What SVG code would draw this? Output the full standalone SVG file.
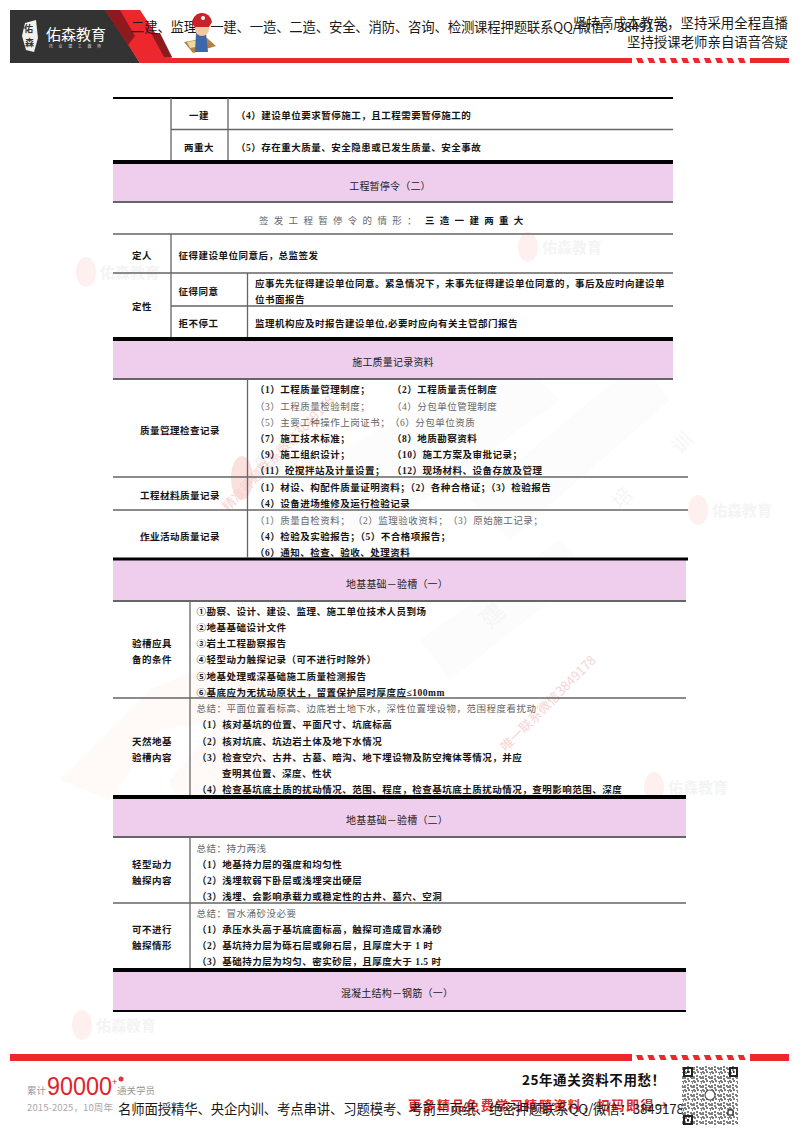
<svg xmlns="http://www.w3.org/2000/svg" width="800" height="1132" viewBox="0 0 800 1132">
<style>
text{font-family:"Liberation Serif","Noto Sans CJK SC",serif}
.b{font-size:9.5px;font-weight:700;letter-spacing:.5px;fill:#151515}
.g{font-size:9.5px;font-weight:400;letter-spacing:.5px;fill:#666}
.t{font-size:10px;font-weight:400;letter-spacing:.2px;fill:#222;text-anchor:middle}
.c{text-anchor:middle}
.h{font-family:"Noto Sans CJK SC",sans-serif;font-size:13.4px;fill:#1a1a1a}
.pink{fill:#efcdec}
.l{stroke:#666;stroke-width:1.3;fill:none}
.k{stroke:#000;stroke-width:4;fill:none}
.u{stroke:#d9534f;stroke-width:1;fill:none}
.wm{font-family:"Noto Sans CJK SC",sans-serif;font-size:15px;font-weight:700;fill:#f4f4f4}
.wr{font-family:"Noto Sans CJK SC",sans-serif;font-size:13px;fill:#f8d4d4}
.red{fill:#ec282d}
</style>
<defs>
<g id="wmark">
<ellipse cx="10" cy="14" rx="10" ry="15" fill="#fdf0ef"/>
<text class="wm" x="24" y="20">佑森教育</text>
</g>
<pattern id="qr" width="9" height="9" patternUnits="userSpaceOnUse">
<rect width="9" height="9" fill="#fff"/>
<path d="M0 0h2v1h1v2H1V2H0zM4 0h2v2H4zM7 1h2v3H8V2H7zM3 4h2v2H3zM0 5h2v3H0zM6 5h2v1h1v2H7V7H6zM3 7h2v2H3z" fill="#555"/>
</pattern>
<g id="dash"><path d="M2 0h6l2 5H4z" class="red"/></g>
</defs>

<g id="background-watermarks">
<path d="M60 780 L150 690 L240 650 L300 720 L250 800 L190 840 L170 780 L220 720 L160 730 L110 800 Z" fill="#fff9f8"/>
<path d="M300 470 L520 360 L560 400 L340 560 Z M470 500 L640 360 L670 400 L510 540 Z M420 640 L560 540 L590 570 L450 680 Z" fill="#fcfcfc"/>
<text x="490" y="630" font-size="24" fill="#f6f6f6" transform="rotate(-45 490 630)" style="font-family:'Noto Sans CJK SC',sans-serif">建</text>
<text x="620" y="510" font-size="20" fill="#f6f6f6" transform="rotate(-45 620 510)" style="font-family:'Noto Sans CJK SC',sans-serif">培</text>
<text x="680" y="455" font-size="20" fill="#f6f6f6" transform="rotate(-45 680 455)" style="font-family:'Noto Sans CJK SC',sans-serif">训</text>
<use href="#wmark" x="76" y="258"/>
<use href="#wmark" x="518" y="233"/>
<use href="#wmark" x="688" y="496"/>
<use href="#wmark" x="644" y="773"/>
<use href="#wmark" x="72" y="1011"/>
<ellipse cx="242" cy="478" rx="11" ry="22" fill="#fbe0de"/>
<text class="wm" x="254" y="468">佑森教育</text>
<text class="wr" x="228" y="512" transform="rotate(-46 228 512)">精准押题联系微信3849178</text>
<text class="wr" x="506" y="752" transform="rotate(-45 506 752)">唯一联系微信3849178</text>
</g>

<g id="page-header">
<path d="M10 10H107L140 63H10Z" fill="#333"/>
<path d="M105 10H140L172 58H632V63H140Z" class="red"/>
<path d="M105 10H120L135 36 128 45ZM151 33H160L172 57H164Z" fill="#8f1a1d"/>
<path d="M25 23 L36 20 L38 38 L34 52 L26 50 L22 36Z" fill="#f4f1ec"/>
<text x="24" y="32" font-size="9" font-weight="700" fill="#333" style="font-family:'Noto Sans CJK SC',sans-serif">佑</text>
<text x="25" y="46" font-size="9" font-weight="700" fill="#333" style="font-family:'Noto Sans CJK SC',sans-serif">森</text>
<text x="46" y="40" font-size="15" fill="#fff" textLength="60" style="font-family:'Noto Sans CJK SC',sans-serif">佑森教育</text>
<text x="49" y="48" font-size="4" fill="#ddd" textLength="52" style="font-family:'Noto Sans CJK SC',sans-serif">托业建工教师</text>
<rect x="750" y="58" width="39" height="5" class="red"/>
<use href="#dash" x="634" y="58"/><use href="#dash" x="645.300" y="58"/><use href="#dash" x="656.600" y="58"/><use href="#dash" x="667.900" y="58"/><use href="#dash" x="679.200" y="58"/><use href="#dash" x="690.500" y="58"/><use href="#dash" x="701.800" y="58"/><use href="#dash" x="713.100" y="58"/><use href="#dash" x="724.400" y="58"/><use href="#dash" x="735.700" y="58"/>
<text class="h" x="131" y="32" textLength="537">二建、监理、一建、一造、二造、安全、消防、咨询、检测课程押题联系QQ/微信：3849178</text>
<text class="h" x="573" y="28" textLength="215">坚持高成本教学，坚持采用全程直播</text>
<text class="h" x="627" y="47" textLength="161">坚持授课老师亲自语音答疑</text>
<g id="mascot">
<path d="M184 42L207 38 216 46 193 53Z" fill="#b5804a"/>
<path d="M187 42L199 40 201 46 190 48Z" fill="#e9d9a0"/>
<path d="M196 33H206L208 52H195Z" fill="#3c68a8"/>
<circle cx="202" cy="29" r="7" fill="#f5c8a0"/>
<path d="M192 24A10 10 0 0 1 212 22L209 27H195Z" fill="#c8232a"/>
<circle cx="203" cy="18" r="2" fill="#fff"/>
</g>
</g>

<g id="table-lines">
<rect x="113" y="164" width="560" height="38" class="pink"/>
<rect x="113" y="341" width="560" height="38" class="pink"/>
<rect x="113" y="560" width="573" height="41" class="pink"/>
<rect x="113" y="799" width="573" height="38" class="pink"/>
<rect x="113" y="972" width="573" height="39" class="pink"/>
<path class="k" d="M113 98H673" style="stroke-width:2"/>
<path class="k" d="M113 162H673M113 339H673"/>
<path class="k" d="M113 559H688" style="stroke-width:3"/>
<path class="k" d="M113 797H686M113 970H686"/>
<path class="l" d="M171 98V160M228 98V160M171 129.500H673"/>
<path class="l" style="stroke-width:1.800" d="M113 202H673M113 379H673M113 601H686M113 837H686"/>
<path class="k" style="stroke-width:2" d="M113 1011H686"/>
<path class="l" d="M113 234H673M113 273H673M171 306H673M171 234V337M247.500 273V337"/>
<path class="l" d="M247.500 379V558M113 477H688M113 510H688"/>
<path class="l" d="M190 601V795M113 698H686M190 837V968M113 903H686"/>
<path class="u" d="M160.500 434.500H180.500M160.500 499.500H180.500M140 540.500H160"/>
</g>

<g id="section-1">
<text class="b c" x="199" y="118.500">一建</text>
<text class="b c" x="199" y="150.500">两重大</text>
<text class="b" x="236" y="118.500">（4）建设单位要求暂停施工，且工程需要暂停施工的</text>
<text class="b" x="236" y="150.500">（5）存在重大质量、安全隐患或已发生质量、安全事故</text>
</g>

<g id="section-2">
<text class="t" x="390" y="189.500">工程暂停令（二）</text>
<text class="g" x="259" y="223.500" style="letter-spacing:5.3px">签发工程暂停令的情形：</text>
<text class="b" x="425" y="223.500" style="letter-spacing:5.300px">三造一建两重大</text>
<text class="b c" x="142" y="258.500">定人</text>
<text class="b" x="178.500" y="258.500">征得建设单位同意后，总监签发</text>
<text class="b c" x="142" y="309.500">定性</text>
<text class="b" x="178.500" y="294.500">征得同意</text>
<text class="b" x="255" y="286.500">应事先先征得建设单位同意。紧急情况下，未事先征得建设单位同意的，事后及应时向建设单</text>
<text class="b" x="255" y="302.500">位书面报告</text>
<text class="b" x="178.500" y="326.500">拒不停工</text>
<text class="b" x="255" y="326.500">监理机构应及时报告建设单位,必要时应向有关主管部门报告</text>
</g>

<g id="section-3">
<text class="t" x="393" y="365.500">施工质量记录资料</text>
<text class="b" x="140" y="433.500">质量管理检查记录</text>
<text class="b" x="255" y="392.500">（1）工程质量管理制度；</text>
<text class="b" x="392" y="392.500">（2）工程质量责任制度</text>
<text class="g" x="255" y="409.500">（3）工程质量检验制度；</text>
<text class="g" x="392" y="409.500">（4）分包单位管理制度</text>
<text class="g" x="255" y="425.500">（5）主要工种操作上岗证书；</text>
<text class="g" x="390" y="425.500">（6）分包单位资质</text>
<text class="b" x="255" y="441.500">（7）施工技术标准；</text>
<text class="b" x="392" y="441.500">（8）地质勘察资料</text>
<text class="b" x="255" y="457.500">（9）施工组织设计；</text>
<text class="b" x="392" y="457.500">（10）施工方案及审批记录；</text>
<text class="b" x="255" y="473.500">（11）砼搅拌站及计量设置；</text>
<text class="b" x="392" y="473.500">（12）现场材料、设备存放及管理</text>
<text class="b" x="140" y="498.500">工程材料质量记录</text>
<text class="b" x="255" y="490.500">（1）材设、构配件质量证明资料；（2）各种合格证；（3）检验报告</text>
<text class="b" x="255" y="506.500">（4）设备进场维修及运行检验记录</text>
<text class="b" x="140" y="539.500">作业活动质量记录</text>
<text class="g" x="255" y="523.500">（1）质量自检资料；</text>
<text class="g" x="353" y="523.500">（2）监理验收资料；</text>
<text class="g" x="448" y="523.500">（3）原始施工记录；</text>
<text class="b" x="255" y="539.500">（4）检验及实验报告；（5）不合格项报告；</text>
<text class="b" x="255" y="555.500">（6）通知、检查、验收、处理资料</text>
</g>

<g id="section-4">
<text class="t" x="397" y="587.500">地基基础－验槽（一）</text>
<text class="b c" x="152" y="646.500">验槽应具</text>
<text class="b c" x="152" y="662.500">备的条件</text>
<text class="b" x="196.500" y="614.500">①勘察、设计、建设、监理、施工单位技术人员到场</text>
<text class="b" x="196.500" y="630.500">②地基基础设计文件</text>
<text class="b" x="196.500" y="646.500">③岩土工程勘察报告</text>
<text class="b" x="196.500" y="662.500">④轻型动力触探记录（可不进行时除外）</text>
<text class="b" x="196.500" y="679.500">⑤地基处理或深基础施工质量检测报告</text>
<text class="b" x="196.500" y="695.500">⑥基底应为无扰动原状土，留置保护层时厚度应≤100mm</text>
<text class="b c" x="152" y="744.500">天然地基</text>
<text class="b c" x="152" y="760.500">验槽内容</text>
<text class="g" x="196.500" y="711.500">总结：平面位置看标高、边底岩土地下水，深性位置埋设物，范围程度看扰动</text>
<text class="b" x="197" y="727.500">（1）核对基坑的位置、平面尺寸、坑底标高</text>
<text class="b" x="197" y="744.500">（2）核对坑底、坑边岩土体及地下水情况</text>
<text class="b" x="197" y="760.500">（3）检查空穴、古井、古墓、暗沟、地下埋设物及防空掩体等情况，并应</text>
<text class="b" x="222" y="776.500">查明其位置、深度、性状</text>
<text class="b" x="197" y="792.500">（4）检查基坑底土质的扰动情况、范围、程度，检查基坑底土质扰动情况，查明影响范围、深度</text>
</g>

<g id="section-5">
<text class="t" x="397" y="824">地基基础－验槽（二）</text>
<text class="b c" x="152" y="867.500">轻型动力</text>
<text class="b c" x="152" y="883.500">触探内容</text>
<text class="g" x="196.500" y="851.500">总结：持力两浅</text>
<text class="b" x="197" y="867.500">（1）地基持力层的强度和均匀性</text>
<text class="b" x="197" y="883.500">（2）浅埋软弱下卧层或浅埋突出硬层</text>
<text class="b" x="197" y="900">（3）浅埋、会影响承载力或稳定性的古井、墓穴、空洞</text>
<text class="b c" x="152" y="932.500">可不进行</text>
<text class="b c" x="152" y="948.500">触探情形</text>
<text class="g" x="196.500" y="916.500">总结：冒水涌砂没必要</text>
<text class="b" x="197" y="932.500">（1）承压水头高于基坑底面标高，触探可造成冒水涌砂</text>
<text class="b" x="197" y="949">（2）基坑持力层为砾石层或卵石层，且厚度大于 1 时</text>
<text class="b" x="197" y="965">（3）基础持力层为均匀、密实砂层，且厚度大于 1.5 时</text>
<text class="t" x="397" y="996.500">混凝土结构－钢筋（一）</text>
</g>

<g id="page-footer">
<rect x="10" y="1054" width="622" height="7" class="red"/>
<rect x="750" y="1054" width="39" height="7" class="red"/>
<use href="#dash" x="634" y="1055"/><use href="#dash" x="645.300" y="1055"/><use href="#dash" x="656.600" y="1055"/><use href="#dash" x="667.900" y="1055"/><use href="#dash" x="679.200" y="1055"/><use href="#dash" x="690.500" y="1055"/><use href="#dash" x="701.800" y="1055"/><use href="#dash" x="713.100" y="1055"/><use href="#dash" x="724.400" y="1055"/><use href="#dash" x="735.700" y="1055"/>
<text x="27" y="1094" font-size="9.500" fill="#999" style="font-family:'Noto Sans CJK SC',sans-serif">累计</text>
<text x="47" y="1095" font-size="25" fill="#e0242a" textLength="65" lengthAdjust="spacingAndGlyphs" style="font-family:'Liberation Sans',sans-serif">90000</text>
<text x="112" y="1085" font-size="9" fill="#e0242a" style="font-family:'Liberation Sans',sans-serif">+</text>
<circle cx="121" cy="1079" r="2.500" fill="#d83a3a"/>
<text x="117" y="1094" font-size="9.500" fill="#999" style="font-family:'Noto Sans CJK SC',sans-serif">通关学员</text>
<text x="27" y="1111" font-size="9.500" fill="#aaa" textLength="86" style="font-family:'Noto Sans CJK SC',sans-serif">2015-2025，10周年</text>
<text x="408" y="1110" font-size="13" font-weight="700" fill="#dc2a2a" textLength="260" style="font-family:'Noto Sans CJK SC',sans-serif">更多精品免费学习精髓资料，扫码即得→</text>
<text class="h" x="118" y="1114" textLength="566">名师面授精华、央企内训、考点串讲、习题模考、考前三页纸、绝密押题联系QQ/微信：3849178</text>
<text x="522" y="1085" font-size="13.500" font-weight="700" fill="#111" textLength="143" style="font-family:'Noto Sans CJK SC',sans-serif">25年通关资料不用愁！</text>
<g id="qr-code">
<rect x="682" y="1066" width="56" height="59" fill="url(#qr)" opacity=".75"/>
<path d="M683 1067h10v10h-10zM685 1069v6h6v-6zM729 1067h9v10h-9zM731 1069v6h5v-6zM683 1115h10v10h-10zM685 1117v6h6v-6z" fill="#222" fill-rule="evenodd"/>
<path d="M687 1071h2v2h-2zM733 1071h1v2h-1zM687 1119h2v2h-2z" fill="#222"/>
<rect x="728" y="1110" width="5" height="5" fill="#fff" stroke="#222" stroke-width="1.200"/>
<circle cx="710" cy="1095" r="5" fill="#fff" stroke="#555" stroke-width="1.200"/>
</g>
</g>
</svg>
